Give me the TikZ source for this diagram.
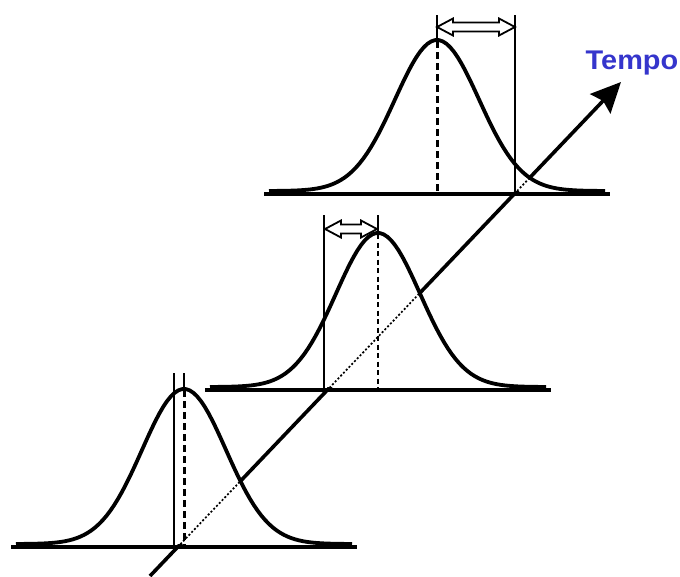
\documentclass[tikz,border=0pt]{standalone}
\usepackage{fontspec}
\setmainfont{Liberation Sans}
\usepackage{xcolor}
\usetikzlibrary{arrows.meta}
\definecolor{tempoblue}{HTML}{3535CC}

% one bell: peak x, ground y, height
\newcommand{\bellpath}[3]{plot[domain=-168:168, samples=90]
  ({#1+\x},{#2-3-(#3-3)*exp(-0.5*(\x/42)^2)})}
% hollow double arrow between two x values at height y
\newcommand{\spreadarrow}[3]{%
  \draw[spread] (#1,#3) -- ({#1+16},{#3-8.5}) -- ({#1+16},{#3-4.5})
    -- ({#2-16},{#3-4.5}) -- ({#2-16},{#3-8.5}) -- (#2,#3)
    -- ({#2-16},{#3+8.5}) -- ({#2-16},{#3+4.5}) -- ({#1+16},{#3+4.5})
    -- ({#1+16},{#3+8.5}) -- cycle;}

\begin{document}
\begin{tikzpicture}[x=1pt, y=-1pt,
    timeaxis/.style={line width=3.6pt, -{Stealth[length=30pt, width=28pt, inset=4pt]}},
    hidden/.style={line width=1.7pt, dash pattern=on 2pt off 2pt},
    bell/.style={line width=3.8pt, line join=round},
    guide/.style={line width=2pt},
    meanline/.style={line width=3pt, dash pattern=on 7pt off 4pt},
    thinmean/.style={line width=1.3pt, dash pattern=on 5pt off 3.5pt},
    spread/.style={line width=1.8pt, fill=white, line join=miter}]
  \useasboundingbox (0,0) rectangle (680,576);

  \coordinate (t0) at (150,576);
  \coordinate (t1) at (621,82);

  % time axis, solid where no bell covers it
  \draw[timeaxis] (t0) -- (t1);

  % bells: hide the axis below each curve, show it dotted there
  \foreach \px/\by/\h/\gw in {184/547/158/4.5pt, 378/390/157/3.3pt, 437/194/154/3.3pt}{
    \fill[white] \bellpath{\px}{\by}{\h} -- cycle;
    \begin{scope}
      \clip \bellpath{\px}{\by}{\h} -- cycle;
      \draw[hidden] (t0) -- (t1);
    \end{scope}
    \draw[bell] \bellpath{\px}{\by}{\h};
    \draw[line width=\gw] ({\px-173},\by) -- ({\px+173},\by);
  }

  % top bell
  \draw[guide] (515,15) -- (515,195);
  \draw[guide] (437,15) -- (437,40);
  \draw[meanline] (437,41) -- (437,194);
  \spreadarrow{437}{515}{27}

  % middle bell
  \draw[guide] (324,215) -- (324,392);
  \draw[guide] (378,215) -- (378,233);
  \draw[thinmean] (378,234) -- (378,390);
  \spreadarrow{325}{377}{229}

  % bottom bell
  \draw[guide] (174,373) -- (174,550);
  \draw[guide] (184,373) -- (184,389);
  \draw[meanline] (184,390) -- (184,547);

  \node[anchor=base, text=tempoblue, font=\bfseries\fontsize{27}{32}\selectfont]
    (tempo) at (632,69) {\scalebox{1.07}[1]{Tempo}};
\end{tikzpicture}
\end{document}
